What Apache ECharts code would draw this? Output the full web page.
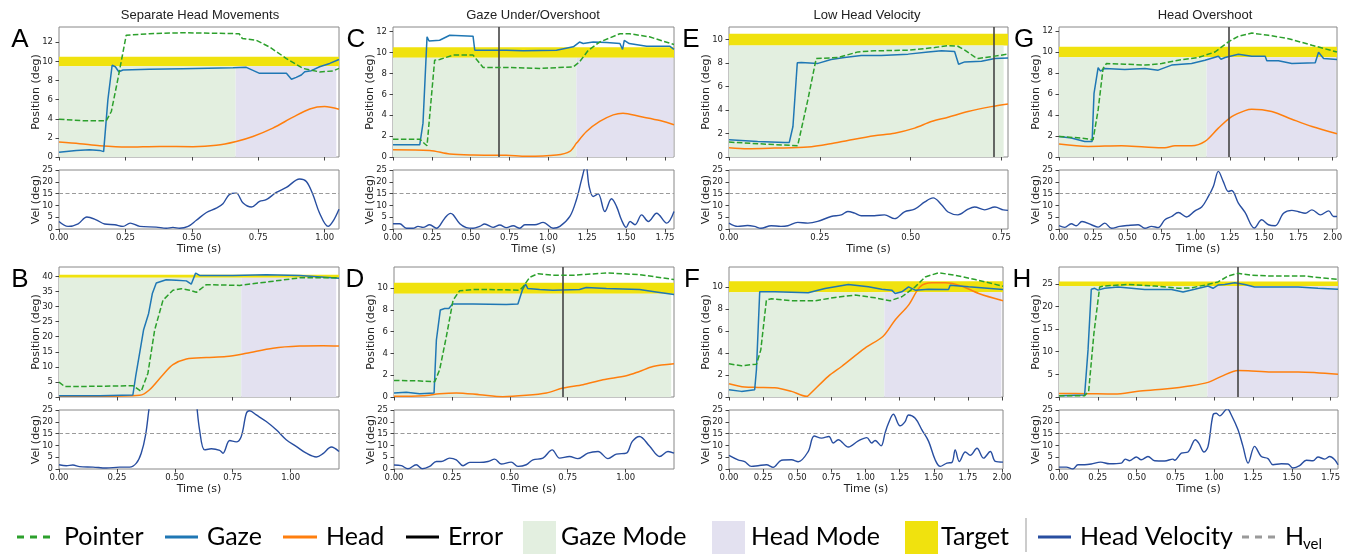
<!DOCTYPE html>
<html><head><meta charset="utf-8">
<script src="https://cdn.jsdelivr.net/npm/echarts@6/dist/echarts.min.js"></script>
<style>html,body{margin:0;padding:0;background:#fff}#c{width:1348px;height:554px}</style>
</head><body><div id="c"></div>
<script>
// ---------- DATA ----------
const panels = ['A','B','C','D','E','F','G','H'];
const titles = ['Separate Head Movements','Gaze Under/Overshoot','Low Head Velocity','Head Overshoot'];
const xMax = [1.054, 1.209, 1.808, 1.209, 0.768, 2.007, 2.032, 1.797];
const yMax = [13.6, 43.1, 12.44, 11.95, 11.07, 11.8, 12.38, 28.7];
const yStep = [2, 5, 2, 2, 2, 2, 2, 5];
const targetPos = [10, 40, 10, 10, 10, 10, 10, 25];
const switchTime = [0.665, 0.787, 1.18, null, null, 1.138, 1.079, 0.956];
const modeEnd = [1.044, 1.197, 1.804, 1.197, 0.756, 1.995, 2.024, 1.793];
const errorTime = [null, null, 0.683, 0.734, 0.733, null, 1.24, 1.153];
const velTicks = [0, 5, 10, 15, 20, 25];
const hVel = 15;

const A_pointer = [[0,3.96],[0.09,3.8],[0.178,3.8],[0.197,4.76],[0.222,8.2],[0.253,12.74],[0.341,12.9],[0.467,13.0],[0.678,12.9],[0.69,12.4],[0.743,12.2],[0.793,11.5],[0.856,10.3],[0.918,9.27],[0.981,8.9],[1.031,9.0],[1.054,9.27]];
const A_gaze = [[0,0.49],[0.065,0.69],[0.115,0.76],[0.153,0.69],[0.168,0.56],[0.184,5.97],[0.2,9.6],[0.212,9.44],[0.225,8.92],[0.241,9.1],[0.341,9.17],[0.467,9.24],[0.655,9.34],[0.705,9.38],[0.755,8.75],[0.856,8.75],[0.875,8.13],[0.893,8.33],[0.912,8.58],[0.925,8.92],[0.95,9.03],[0.981,9.44],[1.019,9.79],[1.054,10.2]];
const A_head = [[0,1.56],[0.078,1.39],[0.153,1.18],[0.253,1.04],[0.379,1.11],[0.504,1.08],[0.592,1.22],[0.667,1.63],[0.73,2.15],[0.805,3.02],[0.881,4.17],[0.944,5.03],[1.0,5.28],[1.054,5.0]];
const A_vel = [[0,3.2],[0.034,1.1],[0.072,2.2],[0.105,5.1],[0.14,3.9],[0.172,2.1],[0.21,1.8],[0.241,1.1],[0.268,2.5],[0.304,1.1],[0.366,0.8],[0.404,0.3],[0.429,0.7],[0.454,0.3],[0.486,1.1],[0.517,3.7],[0.555,7.0],[0.592,8.8],[0.617,10.7],[0.642,14.7],[0.667,15.2],[0.693,11.0],[0.724,9.3],[0.755,11.7],[0.78,12.4],[0.818,15.5],[0.856,17.6],[0.906,21.2],[0.931,20.1],[0.956,14.5],[0.981,6.7],[1.013,1.1],[1.031,3.2],[1.054,8.4]];

const B_pointer = [[0,4.95],[0.024,3.5],[0.104,3.5],[0.319,3.74],[0.355,1.87],[0.384,7.9],[0.413,22.2],[0.449,32.1],[0.492,35.4],[0.528,35.9],[0.564,35.4],[0.593,34.7],[0.636,37.25],[0.78,37.0],[0.895,38.1],[1.039,39.5],[1.209,39.5]];
const B_gaze = [[0,0.44],[0.176,0.44],[0.319,0.66],[0.331,6.8],[0.348,14.5],[0.365,22.2],[0.387,27.7],[0.403,34.3],[0.42,37.8],[0.463,38.9],[0.506,38.7],[0.55,38.5],[0.571,37.4],[0.59,41.1],[0.607,40.3],[0.751,40.3],[0.895,40.5],[1.039,40.3],[1.209,39.4]];
const B_head = [[0,0.22],[0.176,0.22],[0.348,0.55],[0.391,2.4],[0.449,7.4],[0.492,10.7],[0.55,12.6],[0.636,13.1],[0.722,13.4],[0.809,14.5],[0.924,16.2],[1.039,16.9],[1.14,17.0],[1.209,16.9]];
const B_vel = [[0,1.8],[0.032,1.4],[0.06,1.7],[0.089,1.0],[0.147,0.8],[0.204,0.4],[0.262,0.8],[0.305,0.8],[0.334,2.5],[0.355,6.7],[0.374,14.5],[0.388,25],[0.41,40],[0.45,60],[0.5,70],[0.55,55],[0.58,38],[0.593,28.5],[0.607,16.6],[0.629,8.1],[0.658,8.6],[0.694,7.9],[0.708,6.7],[0.737,12.1],[0.765,11.5],[0.787,13.8],[0.809,23.6],[0.823,24.7],[0.852,22.9],[0.895,20.1],[0.938,16.6],[0.981,12.4],[1.024,9.6],[1.068,6.7],[1.111,5.1],[1.14,6.5],[1.176,9.3],[1.209,7.4]];

const C_pointer = [[0,1.71],[0.172,1.71],[0.204,1.27],[0.219,1.08],[0.268,9.27],[0.3,9.33],[0.387,9.75],[0.515,9.75],[0.58,8.57],[0.73,8.57],[0.945,8.48],[1.16,8.63],[1.2,9.1],[1.256,10.2],[1.33,11.0],[1.46,11.8],[1.52,11.8],[1.65,11.5],[1.808,10.76]];
const C_gaze = [[0,1.17],[0.172,1.17],[0.193,3.24],[0.219,11.5],[0.232,11.1],[0.3,11.17],[0.365,11.65],[0.515,11.56],[0.526,10.22],[0.73,10.22],[0.837,10.16],[1.052,10.22],[1.16,10.54],[1.2,11.0],[1.224,10.86],[1.288,11.0],[1.374,10.95],[1.46,10.86],[1.477,10.29],[1.488,11.17],[1.52,10.86],[1.632,10.6],[1.78,10.6],[1.808,10.3]];
const C_head = [[0,0.7],[0.236,0.63],[0.365,0.29],[0.515,0.19],[0.73,0.16],[0.859,0.06],[1.052,0.19],[1.138,0.54],[1.181,1.33],[1.245,2.44],[1.33,3.4],[1.417,4.03],[1.48,4.19],[1.59,3.87],[1.718,3.49],[1.808,3.08]];
const C_vel = [[0,2.2],[0.043,2.2],[0.086,0.3],[0.129,0.3],[0.161,1.1],[0.193,0.7],[0.236,1.8],[0.279,0.3],[0.333,4.6],[0.37,6.6],[0.387,6.0],[0.43,2.2],[0.472,0.6],[0.515,0.3],[0.558,1.1],[0.59,2.1],[0.644,0.7],[0.687,1.7],[0.73,0.6],[0.773,1.4],[0.816,0.3],[0.848,1.8],[0.913,1.8],[0.966,2.8],[1.03,0.3],[1.074,1.1],[1.138,5.3],[1.18,12.4],[1.213,20.8],[1.241,27],[1.262,18.0],[1.288,13.8],[1.32,14.9],[1.363,7.4],[1.406,12.8],[1.438,9.6],[1.47,3.9],[1.5,0.7],[1.525,3.2],[1.557,1.8],[1.6,6.0],[1.643,3.2],[1.696,6.7],[1.761,2.5],[1.808,7.4]];

const D_pointer = [[0,1.52],[0.096,1.49],[0.176,1.4],[0.197,2.5],[0.226,5.55],[0.255,8.9],[0.283,9.76],[0.341,9.88],[0.413,9.88],[0.542,9.82],[0.557,10.12],[0.586,11.0],[0.622,11.34],[0.686,11.19],[0.773,11.19],[0.917,11.4],[1.06,11.25],[1.209,10.8]];
const D_gaze = [[0,0.37],[0.053,0.43],[0.111,0.3],[0.173,0.37],[0.183,5.24],[0.2,8.0],[0.219,8.14],[0.237,8.14],[0.252,8.54],[0.341,8.54],[0.485,8.5],[0.535,8.54],[0.554,9.82],[0.568,10.37],[0.578,9.97],[0.629,9.88],[0.686,9.82],[0.801,9.88],[0.83,10.06],[0.917,9.97],[1.06,9.88],[1.132,9.66],[1.209,9.42]];
const D_head = [[0,0.06],[0.125,0.12],[0.197,0.3],[0.269,0.37],[0.37,0.21],[0.47,0.03],[0.571,0.15],[0.658,0.37],[0.73,0.82],[0.816,1.13],[0.902,1.59],[1.003,1.95],[1.06,2.35],[1.118,2.8],[1.209,3.05]];
const D_vel = [[0,1.7],[0.032,1.4],[0.06,0.1],[0.096,1.8],[0.122,0.1],[0.154,1.1],[0.183,3.2],[0.204,3.2],[0.24,4.6],[0.269,3.9],[0.298,1.4],[0.327,2.8],[0.37,2.8],[0.406,3.2],[0.435,4.2],[0.463,2.1],[0.506,2.9],[0.535,1.1],[0.571,1.8],[0.6,3.9],[0.643,4.6],[0.683,8.1],[0.715,4.6],[0.758,5.3],[0.794,4.4],[0.837,6.7],[0.881,7.4],[0.924,4.4],[0.96,6.3],[1.003,6.7],[1.029,11.7],[1.06,13.8],[1.104,9.6],[1.147,5.3],[1.183,7.4],[1.209,6.7]];

const E_pointer = [[0,1.27],[0.079,1.13],[0.189,0.96],[0.217,4.86],[0.24,8.39],[0.3,8.47],[0.355,8.95],[0.4,9.04],[0.493,9.1],[0.566,9.32],[0.603,9.49],[0.63,9.43],[0.649,9.1],[0.676,8.53],[0.686,8.39],[0.732,8.59],[0.768,8.76]];
const E_gaze = [[0,1.47],[0.079,1.33],[0.153,1.24],[0.166,1.24],[0.176,2.6],[0.188,8.02],[0.199,8.05],[0.245,7.97],[0.281,8.3],[0.318,8.47],[0.364,8.64],[0.419,8.64],[0.493,8.76],[0.548,8.95],[0.585,9.04],[0.621,8.98],[0.632,7.9],[0.649,8.1],[0.695,8.16],[0.732,8.39],[0.768,8.42]];
const E_head = [[0,0.79],[0.051,0.71],[0.125,0.76],[0.217,0.85],[0.29,1.19],[0.327,1.41],[0.4,1.81],[0.456,2.03],[0.511,2.46],[0.557,3.02],[0.603,3.39],[0.658,3.87],[0.722,4.29],[0.768,4.52]];
const E_vel = [[0,2.5],[0.024,1.1],[0.051,1.5],[0.07,1.1],[0.088,0.3],[0.116,1.4],[0.143,1.1],[0.162,1.4],[0.189,2.8],[0.217,2.5],[0.244,3.2],[0.281,5.3],[0.309,6.0],[0.327,7.4],[0.346,6.7],[0.364,5.6],[0.4,5.6],[0.428,6.0],[0.456,4.4],[0.483,7.3],[0.511,8.4],[0.539,11.5],[0.562,13.2],[0.585,10.3],[0.603,7.2],[0.63,6.0],[0.658,8.4],[0.676,9.3],[0.704,8.1],[0.732,9.3],[0.755,8.1],[0.768,7.9]];

const F_pointer = [[0,3.01],[0.091,2.83],[0.201,2.98],[0.233,4.28],[0.274,8.8],[0.311,8.92],[0.458,8.73],[0.629,8.73],[0.776,9.04],[0.923,9.25],[1.07,9.0],[1.18,8.73],[1.266,9.1],[1.364,10.0],[1.437,10.9],[1.535,11.27],[1.657,11.05],[1.804,10.66],[2.007,10.06]];
const F_gaze = [[0,0.66],[0.091,0.51],[0.188,0.66],[0.201,2.47],[0.225,9.55],[0.335,9.55],[0.58,9.46],[0.703,9.85],[0.874,10.21],[1.021,10.0],[1.119,9.79],[1.192,9.7],[1.217,9.4],[1.266,9.55],[1.315,10.0],[1.364,9.7],[1.461,9.79],[1.608,9.76],[1.62,10.15],[1.755,10.0],[2.007,9.76]];
const F_head = [[0,1.2],[0.115,0.9],[0.213,0.87],[0.335,0.84],[0.458,0.51],[0.568,0.06],[0.58,0.12],[0.727,1.87],[0.825,2.77],[0.996,4.43],[1.131,5.54],[1.217,6.99],[1.315,8.34],[1.4,10.0],[1.486,10.36],[1.584,10.36],[1.706,10.06],[1.829,9.4],[2.007,8.73]];
const F_vel = [[0,5.8],[0.066,3.9],[0.115,3.1],[0.164,1.1],[0.213,1.4],[0.274,1.8],[0.323,0.7],[0.384,3.7],[0.458,3.9],[0.507,3.1],[0.58,7.4],[0.624,14.0],[0.678,13.1],[0.732,13.8],[0.764,11.0],[0.8,12.4],[0.874,9.3],[0.947,11.9],[1.009,13.3],[1.045,11.0],[1.07,12.1],[1.114,9.8],[1.143,15.2],[1.168,19.4],[1.204,23.2],[1.253,18.3],[1.29,20.1],[1.315,22.9],[1.364,21.5],[1.413,16.6],[1.462,11.7],[1.51,3.9],[1.547,1.1],[1.596,2.5],[1.633,2.8],[1.657,8.1],[1.687,3.2],[1.731,7.2],[1.767,5.8],[1.816,8.8],[1.865,4.6],[1.914,7.4],[1.951,3.2],[2.007,2.9]];

const G_pointer = [[0,1.96],[0.164,1.8],[0.249,1.64],[0.286,4.48],[0.322,8.43],[0.347,8.9],[0.481,8.84],[0.628,8.75],[0.75,8.9],[0.872,9.22],[1.018,9.47],[1.14,10.0],[1.238,10.96],[1.311,11.5],[1.409,11.8],[1.531,11.59],[1.678,11.27],[1.849,10.64],[2.032,10.0]];
const G_gaze = [[0,1.96],[0.09,1.8],[0.188,1.48],[0.242,1.48],[0.256,6.06],[0.286,8.5],[0.303,8.18],[0.335,8.43],[0.481,8.34],[0.628,8.43],[0.725,8.27],[0.823,8.75],[0.969,8.9],[1.067,9.22],[1.165,9.6],[1.184,9.31],[1.214,9.47],[1.311,9.79],[1.409,9.6],[1.507,9.6],[1.519,9.16],[1.604,9.16],[1.702,8.9],[1.873,8.97],[1.897,9.98],[1.934,9.38],[2.032,9.28]];
const G_head = [[0,1.23],[0.212,1.01],[0.457,1.07],[0.628,0.95],[0.774,0.88],[0.847,1.07],[0.969,1.07],[1.067,1.48],[1.165,2.75],[1.262,3.85],[1.36,4.42],[1.409,4.55],[1.555,4.33],[1.702,3.6],[1.849,2.9],[2.032,2.21]];
const G_vel = [[0,1.4],[0.042,0.7],[0.09,2.2],[0.127,1.4],[0.168,3.2],[0.237,1.8],[0.286,0.8],[0.335,2.5],[0.383,0.3],[0.444,1.1],[0.505,1.5],[0.579,1.8],[0.628,0.3],[0.676,1.1],[0.725,0.6],[0.774,3.9],[0.823,5.3],[0.872,7.0],[0.933,5.1],[0.994,7.7],[1.043,9.3],[1.092,13.8],[1.128,18.0],[1.165,24.4],[1.201,20.1],[1.238,15.9],[1.262,16.3],[1.311,11.0],[1.36,7.0],[1.428,0.4],[1.482,3.9],[1.531,1.8],[1.58,1.4],[1.641,6.7],[1.702,7.9],[1.751,7.3],[1.8,6.7],[1.849,8.1],[1.91,6.0],[1.971,7.7],[2.007,5.3],[2.032,5.3]];

const H_pointer = [[0,0.29],[0.165,0.29],[0.191,1.25],[0.225,14.1],[0.262,24.3],[0.294,24.5],[0.444,24.85],[0.616,24.5],[0.767,24.0],[0.852,24.1],[0.938,24.7],[1.024,25.4],[1.089,26.7],[1.153,27.3],[1.239,26.9],[1.368,26.7],[1.583,26.7],[1.797,25.95]];
const H_gaze = [[0,0.29],[0.165,0.44],[0.187,10.4],[0.208,23.8],[0.23,24.0],[0.251,23.6],[0.294,24.0],[0.38,24.3],[0.552,23.75],[0.724,23.75],[0.799,23.2],[0.874,23.8],[0.96,24.5],[0.992,24.0],[1.024,24.7],[1.067,24.85],[1.132,25.2],[1.196,24.85],[1.26,24.3],[1.411,24.3],[1.54,24.3],[1.668,24.0],[1.797,23.8]];
const H_head = [[0,0.8],[0.187,0.73],[0.359,0.66],[0.509,1.25],[0.681,1.76],[0.852,2.49],[0.96,3.23],[1.046,4.55],[1.153,5.87],[1.218,5.8],[1.368,5.5],[1.54,5.5],[1.797,5.0]];
const H_vel = [[0,0.8],[0.047,0.8],[0.09,0],[0.122,1.8],[0.165,1.8],[0.208,2.1],[0.268,2.9],[0.326,2.2],[0.402,2.5],[0.427,4.2],[0.455,3.5],[0.498,5.1],[0.53,3.9],[0.573,5.3],[0.616,3.5],[0.681,3.4],[0.734,4.2],[0.745,3.7],[0.788,6.7],[0.831,7.2],[0.878,12.4],[0.9,11.0],[0.934,7.2],[0.96,9.6],[0.992,22.9],[1.013,23.6],[1.035,22.5],[1.084,25.5],[1.11,22.9],[1.153,16.6],[1.185,9.6],[1.218,2.5],[1.26,9.6],[1.303,5.3],[1.346,4.4],[1.378,1.8],[1.432,2.2],[1.475,2.1],[1.507,0.4],[1.55,1.4],[1.593,3.7],[1.636,3.5],[1.668,5.1],[1.711,4.2],[1.744,5.3],[1.776,3.9],[1.797,1.8]];

const pointerData = [A_pointer,B_pointer,C_pointer,D_pointer,E_pointer,F_pointer,G_pointer,H_pointer];
const gazeData = [A_gaze,B_gaze,C_gaze,D_gaze,E_gaze,F_gaze,G_gaze,H_gaze];
const headData = [A_head,B_head,C_head,D_head,E_head,F_head,G_head,H_head];
const velData = [A_vel,B_vel,C_vel,D_vel,E_vel,F_vel,G_vel,H_vel];

// ---------- STYLE / LAYOUT ----------
const C_POINTER = '#2ca02c', C_GAZE = '#1f77b4', C_HEAD = '#ff7f0e', C_VEL = '#284ea0';
const C_GMODE = '#e3efe0', C_HMODE = '#e3e1f0', C_TARGET = '#f0e20e', C_ERR = '#444444', C_HVEL = '#9a9a9a';
const regionColors = [C_TARGET, C_GMODE, C_HMODE];
const colLeft = [[59, 393, 729, 1059], [59, 394, 729, 1059]];
const colWidth = [[280, 281, 279, 278], [280, 280, 274, 279]];
const posTopRow = [27, 267], velTopRow = [170, 410];
const POS_H = 130, VEL_H = 59;
const TICK_FONT = 'DejaVu Sans';
const AX = '#888';

function ticksTo(max, step){ const t=[]; for(let v=0; v<=max+1e-9; v+=step) t.push(+v.toFixed(4)); return t; }

const grids=[], xAxes=[], yAxes=[], series=[];
panels.forEach((p, i) => {
  const col = Math.floor(i/2), row = i%2;
  const left = colLeft[row][col], width = colWidth[row][col];
  const gPos = grids.length, gVel = gPos+1;
  const gridStyle = {show:true, borderColor:AX, borderWidth:1, backgroundColor:'rgba(0,0,0,0)', containLabel:false};
  grids.push(Object.assign({left, top: posTopRow[row], width, height: POS_H}, gridStyle));
  grids.push(Object.assign({left, top: velTopRow[row], width, height: VEL_H}, gridStyle));
  const xt = ticksTo(xMax[i], 0.25);
  const yt = ticksTo(yMax[i], yStep[i]);
  const tickCommon = {show:true, length:3.5, lineStyle:{color:'#444', width:1}};
  xAxes.push({type:'value', gridIndex:gPos, min:0, max:xMax[i], axisLine:{show:false}, splitLine:{show:false},
    axisTick:Object.assign({customValues: xt}, tickCommon), axisLabel:{show:false}});
  yAxes.push({type:'value', gridIndex:gPos, min:0, max:yMax[i], axisLine:{show:false}, splitLine:{show:false},
    axisTick:Object.assign({customValues: yt}, tickCommon),
    axisLabel:{customValues: yt, fontFamily:TICK_FONT, fontSize:8.5, color:'#222', margin:6, formatter: v => String(v)},
    name:'Position (deg)', nameLocation:'middle', nameGap:17.5, nameRotate:90, nameMoveOverlap:false,
    nameTextStyle:{fontFamily:TICK_FONT, fontSize:11, color:'#222'}});
  xAxes.push({type:'value', gridIndex:gVel, min:0, max:xMax[i], axisLine:{show:false}, splitLine:{show:false},
    axisTick:Object.assign({customValues: xt}, tickCommon),
    axisLabel:{customValues: xt, fontFamily:TICK_FONT, fontSize:8.5, color:'#222', margin:4, formatter: v => v.toFixed(2)},
    name:'Time (s)', nameLocation:'middle', nameGap:15, nameTextStyle:{fontFamily:TICK_FONT, fontSize:11, color:'#222'}});
  yAxes.push({type:'value', gridIndex:gVel, min:0, max:25, axisLine:{show:false}, splitLine:{show:false},
    axisTick:Object.assign({customValues: velTicks}, tickCommon),
    axisLabel:{customValues: velTicks, fontFamily:TICK_FONT, fontSize:8.5, color:'#222', margin:6},
    name:'Vel (deg)', nameLocation:'middle', nameGap:17.5, nameRotate:90, nameMoveOverlap:false,
    nameTextStyle:{fontFamily:TICK_FONT, fontSize:11, color:'#222'}});
  const xiPos = gPos, xiVel = gVel;
  // regions: [x0, x1, y0, y1, colorIndex]
  const modeTop = targetPos[i]-0.5;
  const regions = [[0, xMax[i], targetPos[i]-0.5, targetPos[i]+0.5, 0]];
  if (switchTime[i] != null) {
    regions.push([0, switchTime[i], 0, modeTop, 1]);
    regions.push([switchTime[i], modeEnd[i], 0, modeTop, 2]);
  } else {
    regions.push([0, modeEnd[i], 0, modeTop, 1]);
  }
  series.push({type:'custom', xAxisIndex:xiPos, yAxisIndex:xiPos, z:0, silent:true, data:regions,
    encode:{x:[0,1], y:[2,3]},
    renderItem:(params, api) => {
      const a = api.coord([api.value(0), api.value(3)]);
      const b = api.coord([api.value(1), api.value(2)]);
      return {type:'rect', shape:{x:a[0], y:a[1], width:b[0]-a[0], height:b[1]-a[1]}, style:{fill: regionColors[api.value(4)]}};
    }});
  series.push({type:'line', name:'Head', xAxisIndex:xiPos, yAxisIndex:xiPos, z:3, data:headData[i], showSymbol:false, smooth:0.3,
    lineStyle:{color:C_HEAD, width:1.5}});
  series.push({type:'line', name:'Gaze', xAxisIndex:xiPos, yAxisIndex:xiPos, z:4, data:gazeData[i], showSymbol:false,
    lineStyle:{color:C_GAZE, width:1.5}});
  series.push({type:'line', name:'Pointer', xAxisIndex:xiPos, yAxisIndex:xiPos, z:5, data:pointerData[i], showSymbol:false,
    lineStyle:{color:C_POINTER, width:1.5, type:[5.5,2.4]}});
  if (errorTime[i] != null) {
    series.push({type:'line', name:'Error', xAxisIndex:xiPos, yAxisIndex:xiPos, z:6, data:[], showSymbol:false,
      markLine:{silent:true, symbol:'none', animation:false, label:{show:false},
        lineStyle:{color:C_ERR, width:1.6, type:'solid'}, data:[{xAxis:errorTime[i]}]}});
  }
  series.push({type:'line', name:'Head Velocity', xAxisIndex:xiVel, yAxisIndex:xiVel, z:4, data:velData[i], showSymbol:false, smooth:0.35,
    lineStyle:{color:C_VEL, width:1.4}, clip:true,
    markLine:{silent:true, symbol:'none', animation:false, label:{show:false},
      lineStyle:{color:C_HVEL, width:1.1, type:[4,2.5]}, data:[{yAxis:hVel}]}});
});

// ---------- TEXT / LEGEND GRAPHICS ----------
const graphic = [];
const titleX = [200, 533, 867, 1205];
titles.forEach((t, k) => graphic.push({type:'text', x:titleX[k], y:15,
  style:{text:t, fontFamily:'Liberation Sans', fontSize:13, fill:'#222', align:'center', verticalAlign:'middle'}}));
const letterX = [[20, 356, 691, 1024], [20, 355, 692, 1022]];
const letterY = [40, 280];
panels.forEach((p, i) => {
  const col = Math.floor(i/2), row = i%2;
  graphic.push({type:'text', x:letterX[row][col], y:letterY[row],
    style:{text:p, fontFamily:'Liberation Sans', fontSize:26, fill:'#000', align:'center', verticalAlign:'middle'}});
});
const LY = 537, LFONT = 'Lato', LSIZE = 25;
function legLine(x1, x2, color, dash){ graphic.push({type:'line', shape:{x1, y1:LY, x2, y2:LY}, style:{stroke:color, lineWidth:3, lineDash: dash || null}}); }
function legRect(x, color){ graphic.push({type:'rect', shape:{x, y:521, width:33, height:33}, style:{fill:color}}); }
function legText(x, t, size){ graphic.push({type:'text', x, y:LY, style:{text:t, fontFamily:LFONT, fontSize:size||LSIZE, fill:'#000', align:'left', verticalAlign:'middle'}}); }
legLine(17, 50, C_POINTER, [7,6]); legText(64, 'Pointer');
legLine(165, 198, C_GAZE); legText(207, 'Gaze');
legLine(283, 317, C_HEAD); legText(326, 'Head');
legLine(406, 439, '#000'); legText(448, 'Error');
legRect(523, C_GMODE); legText(561, 'Gaze Mode');
legRect(712, C_HMODE); legText(751, 'Head Mode');
legRect(905, C_TARGET); legText(941, 'Target');
graphic.push({type:'line', shape:{x1:1026, y1:518, x2:1026, y2:552}, style:{stroke:'#cccccc', lineWidth:2}});
legLine(1038, 1071, C_VEL); legText(1080, 'Head Velocity');
legLine(1242, 1280, C_HVEL, [7,6]); legText(1285, 'H');
graphic.push({type:'text', x:1303, y:LY+7, style:{text:'vel', fontFamily:LFONT, fontSize:15, fill:'#000', align:'left', verticalAlign:'middle'}});

const chart = echarts.init(document.getElementById('c'), null, {renderer:'canvas'});
chart.setOption({animation:false, grid:grids, xAxis:xAxes, yAxis:yAxes, series, graphic});
</script></body></html>
